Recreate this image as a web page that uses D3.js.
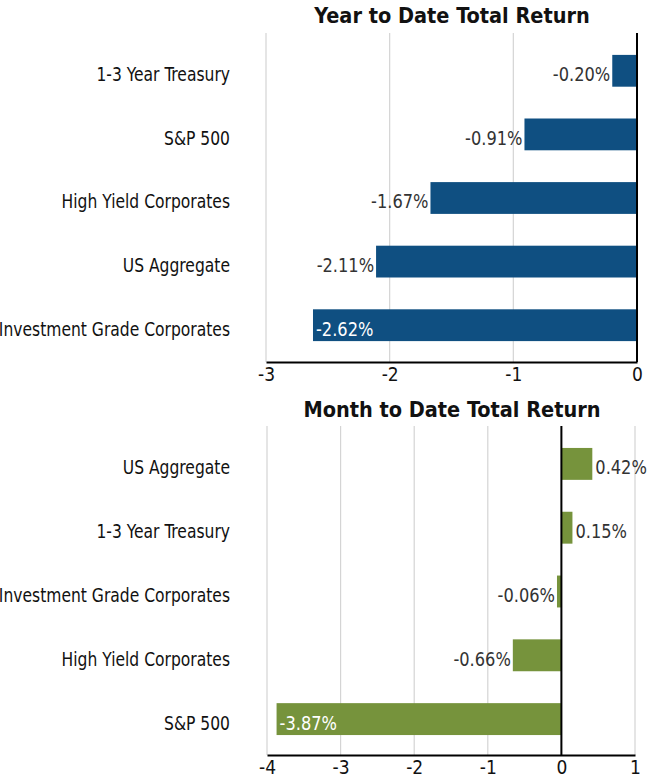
<!DOCTYPE html>
<html>
<head>
<meta charset="utf-8">
<script src="https://cdn.jsdelivr.net/npm/d3@7"></script>
<style>
  html, body { margin: 0; padding: 0; background: #fff; }
  svg { display: block; }
  text { font-family: "DejaVu Sans Condensed", "DejaVu Sans", sans-serif; }
</style>
</head>
<body>
<svg id="chart" width="652" height="779"></svg>
<script>
// ---- Data ----
const ytdTitle = "Year to Date Total Return";
const ytdCategories = ["1-3 Year Treasury", "S&P 500", "High Yield Corporates", "US Aggregate", "Investment Grade Corporates"];
const ytdValues = [-0.20, -0.91, -1.67, -2.11, -2.62];
const ytdTicks = [-3, -2, -1, 0];

const mtdTitle = "Month to Date Total Return";
const mtdCategories = ["US Aggregate", "1-3 Year Treasury", "Investment Grade Corporates", "High Yield Corporates", "S&P 500"];
const mtdValues = [0.42, 0.15, -0.06, -0.66, -3.87];
const mtdTicks = [-4, -3, -2, -1, 0, 1];

const svg = d3.select("#chart");

// horizontally condensed text (mimics a condensed typeface)
function condensedText(sel, xFn, yFn, sx) {
  return sel.attr("x", 0).attr("y", 0)
    .attr("transform", (d, i) => `translate(${xFn(d, i)},${yFn(d, i)}) scale(${sx},1)`);
}

function drawPanel(opts) {
  const { title, categories, values, ticks, color, x0, x1, top, yTop, yBot, axisY, titleY, insideThreshold } = opts;
  const g = svg.append("g");
  const x = d3.scaleLinear().domain([ticks[0], ticks[ticks.length - 1]]).range([x0, x1]);
  const y = d3.scaleBand().domain(categories).range([yTop, yBot]).paddingInner(0.5).paddingOuter(0.25);

  // title
  g.append("text")
    .attr("x", 452)
    .attr("y", titleY)
    .attr("text-anchor", "middle")
    .attr("font-weight", "bold")
    .attr("font-size", 21.5)
    .attr("fill", "#111")
    .text(title);

  // gridlines
  g.selectAll("line.grid").data(ticks).enter().append("line")
    .attr("class", "grid")
    .attr("x1", d => x(d)).attr("x2", d => x(d))
    .attr("y1", top).attr("y2", axisY)
    .attr("stroke", "#d4d4d4").attr("stroke-width", 1.2);

  // bars
  g.selectAll("rect.bar").data(values).enter().append("rect")
    .attr("class", "bar")
    .attr("x", d => x(Math.min(0, d)))
    .attr("width", d => Math.abs(x(d) - x(0)))
    .attr("y", (d, i) => y(categories[i]))
    .attr("height", y.bandwidth())
    .attr("fill", color);

  // zero line
  g.append("line")
    .attr("x1", x(0)).attr("x2", x(0))
    .attr("y1", top).attr("y2", axisY)
    .attr("stroke", "#000").attr("stroke-width", 2);

  // bottom axis
  const axis = d3.axisBottom(x).tickValues(ticks).tickSize(0).tickPadding(6).tickFormat(d3.format("d"));
  const ax = g.append("g").attr("transform", `translate(0,${axisY})`).call(axis);
  ax.select(".domain").attr("stroke", "#000").attr("stroke-width", 2.2);
  ax.selectAll(".tick text")
    .attr("font-size", 19)
    .attr("fill", "#111")
    .attr("font-family", "'DejaVu Sans Condensed', 'DejaVu Sans', sans-serif")
    .text(d => d < 0 ? "-" + Math.abs(d) : d);

  // category labels
  const cats = g.selectAll("text.cat").data(categories).enter().append("text")
    .attr("class", "cat")
    .attr("dy", "0.55em")
    .attr("text-anchor", "end")
    .attr("font-size", 19)
    .attr("fill", "#111")
    .text(d => d);
  condensedText(cats, () => 230, d => y(d) + y.bandwidth() / 2, 0.91);

  // value labels
  const vals = g.selectAll("text.val").data(values).enter().append("text")
    .attr("class", "val")
    .attr("dy", "0.55em")
    .attr("text-anchor", d => (d <= insideThreshold || d >= 0) ? "start" : "end")
    .attr("font-size", 19)
    .attr("fill", d => d <= insideThreshold ? "#fff" : "#333")
    .text(d => d.toFixed(2) + "%");
  condensedText(vals,
    d => (d <= insideThreshold) ? x(d) + 3 : (d < 0 ? x(d) - 2 : x(d) + 3),
    (d, i) => y(categories[i]) + y.bandwidth() / 2, 0.95);
}

drawPanel({
  title: ytdTitle, categories: ytdCategories, values: ytdValues, ticks: ytdTicks,
  color: "#0f4f81", x0: 266, x1: 637, top: 33, yTop: 39, yBot: 357, axisY: 362, titleY: 23,
  insideThreshold: -2.5
});

drawPanel({
  title: mtdTitle, categories: mtdCategories, values: mtdValues, ticks: mtdTicks,
  color: "#76933c", x0: 267, x1: 635, top: 426, yTop: 432, yBot: 751, axisY: 755, titleY: 417,
  insideThreshold: -3.5
});
</script>
</body>
</html>
